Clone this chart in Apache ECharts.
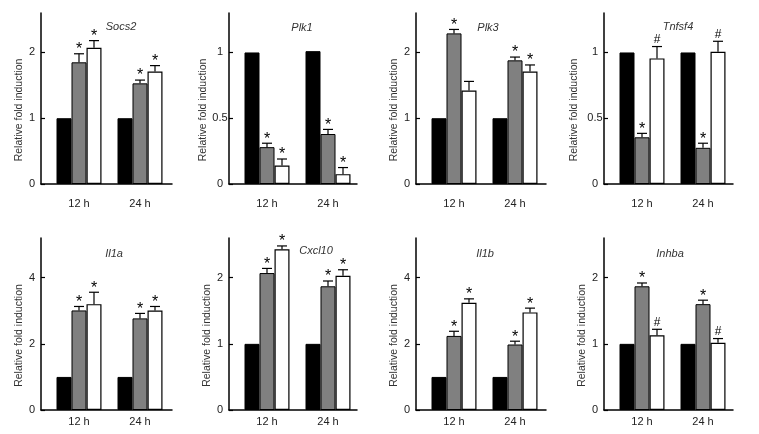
<!DOCTYPE html>
<html>
<head>
<meta charset="utf-8">
<script src="https://cdn.jsdelivr.net/npm/echarts@6/dist/echarts.min.js"></script>
<style>
html,body{margin:0;padding:0;background:#fff;}
#chart{width:759px;height:434px;}
</style>
</head>
<body>
<div id="chart"></div>
<script>
// ---- data ----
const categories = ['12 h', '24 h'];
const genes = ['Socs2', 'Plk1', 'Plk3', 'Tnfsf4', 'Il1a', 'Cxcl10', 'Il1b', 'Inhba'];
const yMax = [2.6, 1.3, 2.6, 1.3, 5.2, 2.6, 5.2, 2.6];
const yTicks = [[0, 1, 2], [0, 0.5, 1], [0, 1, 2], [0, 0.5, 1], [0, 2, 4], [0, 1, 2], [0, 2, 4], [0, 1, 2]];
const controlValues = [[1, 1], [1, 1.01], [1, 1], [1, 1], [1, 1], [1, 1], [1, 1], [1, 1]];
const grayValues = [[1.85, 1.53], [0.28, 0.38], [2.29, 1.88], [0.355, 0.275], [3.01, 2.77], [2.07, 1.87], [2.24, 1.98], [1.87, 1.6]];
const grayErrTop = [[1.98, 1.58], [0.31, 0.415], [2.35, 1.93], [0.385, 0.31], [3.13, 2.92], [2.14, 1.95], [2.38, 2.08], [1.92, 1.66]];
const grayMarks = [['*', '*'], ['*', '*'], ['*', '*'], ['*', '*'], ['*', '*'], ['*', '*'], ['*', '*'], ['*', '*']];
const whiteValues = [[2.07, 1.71], [0.14, 0.075], [1.42, 1.71], [0.955, 1.005], [3.2, 3.01], [2.43, 2.03], [3.24, 2.95], [1.13, 1.015]];
const whiteErrTop = [[2.18, 1.80], [0.19, 0.125], [1.56, 1.81], [1.045, 1.085], [3.56, 3.13], [2.48, 2.12], [3.36, 3.08], [1.22, 1.08]];
const whiteMarks = [['*', '*'], ['*', '*'], ['', '*'], ['#', '#'], ['*', '*'], ['*', '*'], ['*', '*'], ['#', '#']];

// ---- layout ----
const FONT = 'Liberation Sans, Arial, sans-serif';
const colX = [[41, 172], [229, 357], [416, 546], [604, 733]];
const rowY = [[13, 184], [238, 410]];
const DATA_INSET = 7.5;   // data area starts a little right of the y axis
const DATA_WIDTH = 122;
const nameGaps = [12, 19, 13, 24, 15, 13, 12, 14];
const titlePos = [[116, 23], [297, 24], [483, 24], [673, 23], [109, 250], [311, 247], [480, 250], [665, 250]];
const xLabelMargin = [14, 6];
const BAR_W = 15;

const chart = echarts.init(document.getElementById('chart'));

const grid = [], xAxis = [], yAxis = [], series = [], title = [];

function errSeries(ax, values, tops, marks, offset) {
  return {
    type: 'custom',
    xAxisIndex: ax, yAxisIndex: ax,
    z: 5,
    data: values.map((v, k) => [k, v, tops[k]]),
    renderItem: function (params, api) {
      const cat = api.value(0);
      const p0 = api.coord([cat, api.value(1)]);
      const p1 = api.coord([cat, api.value(2)]);
      const x = p0[0] + offset;
      const mark = marks[params.dataIndex];
      const children = [
        { type: 'line', shape: { x1: x, y1: p0[1], x2: x, y2: p1[1] }, style: { stroke: '#000', lineWidth: 1.2 } },
        { type: 'line', shape: { x1: x - 5, y1: p1[1], x2: x + 5, y2: p1[1] }, style: { stroke: '#000', lineWidth: 1.2 } }
      ];
      if (mark) {
        const isStar = mark === '*';
        children.push({
          type: 'text',
          style: {
            text: mark,
            x: x,
            y: isStar ? p1[1] + 4 : p1[1] - 1,
            align: 'center',
            verticalAlign: 'bottom',
            fontFamily: FONT,
            fontSize: isStar ? 16 : 12,
            fill: '#000'
          }
        });
      }
      return { type: 'group', children: children };
    }
  };
}

genes.forEach((g, i) => {
  const col = i % 4, row = Math.floor(i / 4);
  const [x0, x1] = colX[col];
  const [y0, y1] = rowY[row];
  const frame = 2 * i, dataAx = 2 * i + 1;
  // frame grid: axis lines, y ticks/labels/name
  grid.push({ left: x0, top: y0, width: x1 - x0, height: y1 - y0 });
  // data grid: bars and category labels
  grid.push({ left: x0 + DATA_INSET, top: y0, width: DATA_WIDTH, height: y1 - y0 });

  xAxis.push({
    type: 'category', gridIndex: frame, data: categories,
    axisLine: { lineStyle: { color: '#000', width: 1.5 } },
    axisTick: { show: false }, axisLabel: { show: false }
  });
  xAxis.push({
    type: 'category', gridIndex: frame + 1, data: categories,
    axisLine: { show: false }, axisTick: { show: false },
    axisLabel: { fontFamily: FONT, fontSize: 11, color: '#222', margin: xLabelMargin[row] }
  });
  yAxis.push({
    type: 'value', gridIndex: frame, min: 0, max: yMax[i],
    name: 'Relative fold induction', nameLocation: 'middle', nameRotate: 90, nameGap: nameGaps[i],
    nameTextStyle: { fontFamily: FONT, fontSize: 10.5, color: '#333', padding: [0, 23, 0, 0] },
    axisLine: { show: true, lineStyle: { color: '#000', width: 1.5 } },
    axisTick: { show: true, inside: true, length: 4, customValues: yTicks[i], lineStyle: { color: '#000', width: 1.2 } },
    axisLabel: { customValues: yTicks[i], align: 'center', margin: 9, fontFamily: FONT, fontSize: 11, color: '#222' },
    splitLine: { show: false }
  });
  yAxis.push({
    type: 'value', gridIndex: frame + 1, min: 0, max: yMax[i], show: false, splitLine: { show: false }
  });
  title.push({
    text: g, left: titlePos[i][0], top: titlePos[i][1] - 7, textAlign: 'center',
    textStyle: { fontFamily: FONT, fontSize: 11, fontStyle: 'italic', fontWeight: 'normal', color: '#333' }
  });
  const barCommon = { type: 'bar', xAxisIndex: dataAx, yAxisIndex: dataAx, barWidth: BAR_W, barGap: '0%', z: 2 };
  series.push(Object.assign({}, barCommon, { data: controlValues[i], itemStyle: { color: '#000', borderColor: '#000', borderWidth: 1 } }));
  series.push(Object.assign({}, barCommon, { data: grayValues[i], itemStyle: { color: '#808080', borderColor: '#000', borderWidth: 1 } }));
  series.push(Object.assign({}, barCommon, { data: whiteValues[i], itemStyle: { color: '#fff', borderColor: '#000', borderWidth: 1.2 } }));
  series.push(errSeries(dataAx, grayValues[i], grayErrTop[i], grayMarks[i], 0));
  series.push(errSeries(dataAx, whiteValues[i], whiteErrTop[i], whiteMarks[i], BAR_W));
});

chart.setOption({
  backgroundColor: '#fff',
  animation: false,
  title: title,
  grid: grid,
  xAxis: xAxis,
  yAxis: yAxis,
  series: series
});
</script>
</body>
</html>
